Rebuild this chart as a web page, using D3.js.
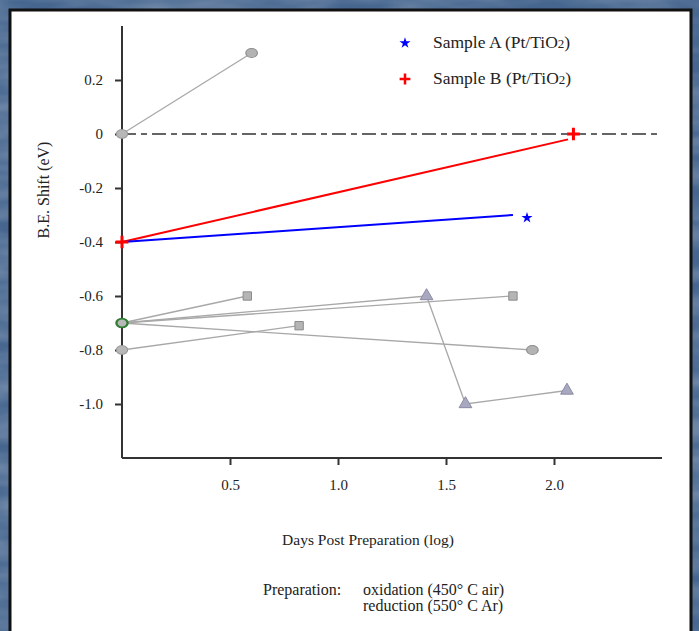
<!DOCTYPE html>
<html>
<head>
<meta charset="utf-8">
<script src="https://cdn.jsdelivr.net/npm/d3@7"></script>
<style>
  body { margin: 0; background: #4a6a92; }
  svg { display: block; }
  .axis path, .axis line { stroke: #333; stroke-width: 2; }
  .axis text { font-family: "Liberation Serif", serif; font-size: 15px; fill: #222; }
  .label { font-family: "Liberation Serif", serif; fill: #222; }
</style>
</head>
<body>
<script>
// x = days post preparation (log), y = B.E. shift (eV)
var xTicks = [0.5, 1.0, 1.5, 2.0];
var yTicks = [0.2, 0, -0.2, -0.4, -0.6, -0.8, -1.0];

var sampleALine = [[0, -0.4], [1.81, -0.30]];
var sampleAMarks = [[1.875, -0.31]];
var sampleBLine = [[0, -0.4], [2.065, -0.02]];
var sampleBMarks = [[0, -0.4], [2.09, 0]];

// grey reference series
var grey1 = [[0, 0], [0.6, 0.3]];
var grey2 = [[0, -0.7], [0.58, -0.6]];
var grey3 = [[0, -0.8], [0.82, -0.71]];
var grey4 = [[0, -0.7], [1.41, -0.6], [1.59, -1.0], [2.06, -0.95]];
var grey5 = [[0, -0.7], [1.81, -0.6]];
var grey6 = [[0, -0.7], [1.9, -0.8]];
var greyShapes = [
  ["circle", "circle"],
  ["square", "square"],
  ["circle", "square"],
  ["square", "triangle", "triangle", "triangle"],
  ["square", "square"],
  ["square", "circle"]
];

var legendNames = ["Sample A (Pt/TiO", "Sample B (Pt/TiO"];

var v = 699, h = 631;
var margin = {top: 26, left: 122, right: 37, bottom: 173};
var width = v - margin.left - margin.right,
    height = h - margin.top - margin.bottom;

var svg = d3.select("body").append("svg")
    .attr("width", v)
    .attr("height", h);

// mottled blue slide background
var defs = svg.append("defs");
var f = defs.append("filter").attr("id", "tex").attr("x", 0).attr("y", 0).attr("width", 1).attr("height", 1);
f.append("feTurbulence").attr("type", "fractalNoise").attr("baseFrequency", "0.012 0.05").attr("numOctaves", 3).attr("seed", 4);
f.append("feColorMatrix").attr("type", "matrix")
    .attr("values", "0 0 0 0 1  0 0 0 0 1  0 0 0 0 1  0 0 0 0.4 -0.1");
f.append("feComposite").attr("in2", "SourceGraphic").attr("operator", "in");

svg.append("rect").attr("width", v).attr("height", h).attr("fill", "#46668f");
svg.append("rect").attr("width", v).attr("height", h).attr("fill", "#46668f").attr("filter", "url(#tex)");

svg.append("rect")
    .attr("x", 10).attr("y", 10)
    .attr("width", 681).attr("height", 640)
    .attr("fill", "#fff")
    .attr("stroke", "#111")
    .attr("stroke-width", 3);

var chart = svg.append("g")
    .attr("transform", "translate(" + margin.left + "," + margin.top + ")");

var x = d3.scaleLinear().domain([0, 2.5]).range([0, 540]),
    y = d3.scaleLinear().domain([0.4, -1.2]).range([0, height]);

function fmt(d) {
  return d === 0 ? "0" : d3.format(".1f")(d).replace("\u2212", "-");
}

var xAxis = d3.axisBottom(x).tickValues(xTicks).tickFormat(fmt).tickSize(7).tickPadding(14),
    yAxis = d3.axisLeft(y).tickValues(yTicks).tickSize(7).tickPadding(12).tickFormat(fmt);

chart.append("g")
    .attr("class", "axis x")
    .attr("transform", "translate(0," + height + ")")
    .call(xAxis)
    .select(".domain").attr("d", "M0,0H540");

chart.append("g")
    .attr("class", "axis y")
    .call(yAxis)
    .select(".domain").attr("d", "M0,0V" + height);

// zero reference line
chart.append("line")
    .attr("x1", 0).attr("x2", x(2.5))
    .attr("y1", y(0)).attr("y2", y(0))
    .attr("stroke", "#333")
    .attr("stroke-width", 1.5)
    .attr("stroke-dasharray", "14,5,6,5");

var line = d3.line()
    .x(function (d) { return x(d[0]); })
    .y(function (d) { return y(d[1]); });

var greys = [grey1, grey2, grey3, grey4, grey5, grey6];

chart.selectAll(".grey-line")
    .data(greys)
    .enter()
    .append("path")
    .classed("grey-line", true)
    .attr("d", line)
    .attr("fill", "none")
    .attr("stroke", "#a8a8a8")
    .attr("stroke-width", 1.3);

var shapeStyle = {
  circle: {sym: d3.symbolCircle, size: 80, fill: "#b3b3b3", stroke: "#8f8f8f"},
  square: {sym: d3.symbolSquare, size: 70, fill: "#b5b5b5", stroke: "#8c8c8c"},
  triangle: {sym: d3.symbolTriangle, size: 70, fill: "#a8a8c0", stroke: "#8a8aa4"}
};

greys.forEach(function (s, i) {
  var pts = s.map(function (d, j) { return {p: d, shape: greyShapes[i][j]}; }).slice(1);
  chart.selectAll(".grey-mark-" + i)
      .data(pts)
      .enter()
      .append("path")
      .attr("transform", function (d) {
        var sc = d.shape === "circle" ? "scale(1.15,0.9)" : "";
        return "translate(" + x(d.p[0]) + "," + y(d.p[1]) + ")" + sc;
      })
      .attr("d", function (d) {
        return d3.symbol().type(shapeStyle[d.shape].sym).size(shapeStyle[d.shape].size)();
      })
      .attr("fill", function (d) { return shapeStyle[d.shape].fill; })
      .attr("stroke", function (d) { return shapeStyle[d.shape].stroke; })
      .attr("stroke-width", 1);
});

// starting points sit on the y axis
var starts = [grey1[0], grey3[0], grey2[0]];
chart.selectAll(".start")
    .data(starts)
    .enter()
    .append("path")
    .attr("transform", function (d) { return "translate(" + x(d[0]) + "," + y(d[1]) + ") scale(1.15,0.9)"; })
    .attr("d", d3.symbol().type(d3.symbolCircle).size(75))
    .attr("fill", "#b8b8b8")
    .attr("stroke", function (d, i) { return i === 2 ? "#2e7d32" : "#999"; })
    .attr("stroke-width", function (d, i) { return i === 2 ? 2 : 1; });

chart.append("path")
    .attr("d", line(sampleBLine))
    .attr("fill", "none")
    .attr("stroke", "#ff0000")
    .attr("stroke-width", 2);

chart.append("path")
    .attr("d", line(sampleALine))
    .attr("fill", "none")
    .attr("stroke", "#0000ff")
    .attr("stroke-width", 2);

var plus = d3.symbol().type(d3.symbolPlus).size(55);
var star = d3.symbol().type(d3.symbolStar).size(38);

chart.selectAll(".b-mark")
    .data(sampleBMarks)
    .enter()
    .append("path")
    .attr("transform", function (d) { return "translate(" + x(d[0]) + "," + y(d[1]) + ")"; })
    .attr("d", plus)
    .attr("fill", "none")
    .attr("stroke", "#ff0000")
    .attr("stroke-width", 3);

chart.selectAll(".a-mark")
    .data(sampleAMarks)
    .enter()
    .append("path")
    .attr("transform", function (d) { return "translate(" + x(d[0]) + "," + y(d[1]) + ")"; })
    .attr("d", star)
    .attr("fill", "#0000ff");

// legend
var legend = svg.append("g").attr("transform", "translate(405,43)");
legendNames.forEach(function (name, i) {
  var g = legend.append("g").attr("transform", "translate(0," + (i * 36) + ")");
  if (i === 0) {
    g.append("path").attr("d", star).attr("fill", "#0000ff");
  } else {
    g.append("path").attr("d", d3.symbol().type(d3.symbolPlus).size(40))
        .attr("fill", "none").attr("stroke", "#ff0000").attr("stroke-width", 2.5);
  }
  var t = g.append("text")
      .attr("class", "label")
      .attr("x", 28).attr("y", 5)
      .style("font-size", "17.5px")
      .text(name);
  t.append("tspan").style("font-size", "13px").text("2");
  t.append("tspan").text(")");
});

// axis titles
svg.append("text")
    .attr("class", "label")
    .attr("transform", "translate(49,190) rotate(-90)")
    .attr("text-anchor", "middle")
    .style("font-size", "16px")
    .text("B.E. Shift (eV)");

svg.append("text")
    .attr("class", "label")
    .attr("x", 368).attr("y", 545)
    .attr("text-anchor", "middle")
    .style("font-size", "15.5px")
    .text("Days Post Preparation (log)");

var note = svg.append("g").attr("class", "label").style("font-size", "16px");
note.append("text").attr("x", 263).attr("y", 595).text("Preparation:");
note.append("text").attr("x", 363).attr("y", 595).text("oxidation (450° C air)");
note.append("text").attr("x", 363).attr("y", 611).text("reduction (550° C Ar)");
</script>
</body>
</html>
